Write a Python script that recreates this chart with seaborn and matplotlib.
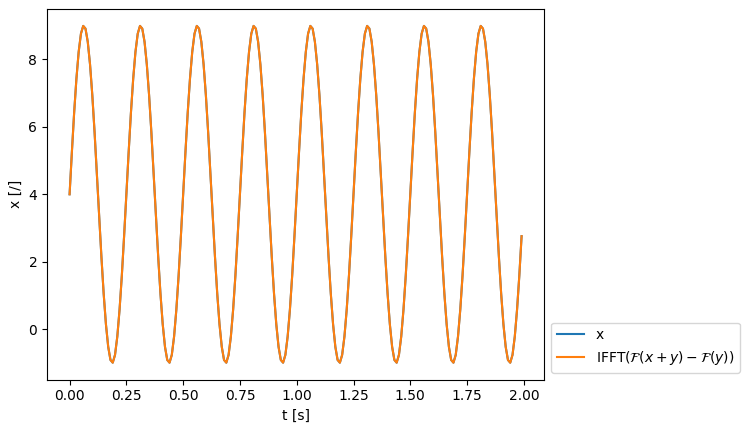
import numpy as np
import pandas as pd
import matplotlib
matplotlib.use("Agg")
import matplotlib.pyplot as plt
import seaborn as sns

# One period of the signal (25 samples, dt = 0.01 s)
cycle = [4.00, 5.24, 6.41, 7.42, 8.22, 8.76, 8.99, 8.91, 8.52, 7.85,
         6.94, 5.84, 4.63, 3.37, 2.16, 1.06, 0.15, -0.52, -0.91, -0.99,
         -0.76, -0.22, 0.58, 1.59, 2.76]
n_cycles = 8
dt = 0.01

x_vals = np.tile(cycle, n_cycles)
t_vals = np.arange(len(x_vals)) * dt
ifft_vals = x_vals.copy()  # reconstruction matches x

df = pd.DataFrame({"t": t_vals, "x": x_vals, "ifft": ifft_vals})

fig, ax = plt.subplots(figsize=(7.47, 4.32), dpi=100)
fig.subplots_adjust(left=0.0629, right=0.7285, top=0.979, bottom=0.1215)

sns.lineplot(data=df, x="t", y="x", ax=ax, color="C0", label="x")
sns.lineplot(data=df, x="t", y="ifft", ax=ax, color="C1",
             label=r"IFFT($\mathcal{F}(x+y) - \mathcal{F}(y)$)")

ax.set_xlabel("t [s]")
ax.set_ylabel("x [/]")
ax.set_xticks([0.0, 0.25, 0.5, 0.75, 1.0, 1.25, 1.5, 1.75, 2.0])
ax.legend(loc="lower left", bbox_to_anchor=(1, 0))

fig.savefig("out.png", dpi=100)
